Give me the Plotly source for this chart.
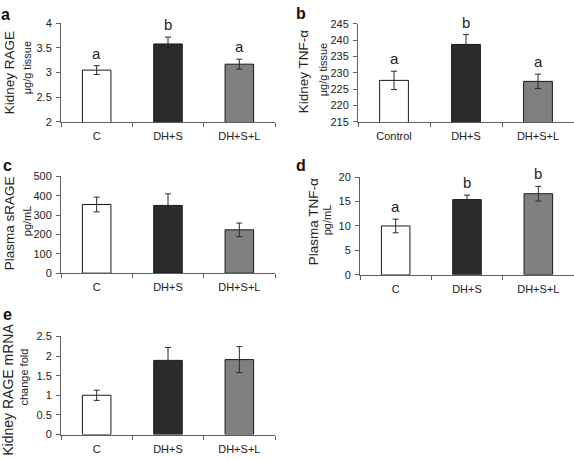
import plotly.graph_objects as go

W, H = 574, 460

groups = ["C", "DH+S", "DH+S+L"]
groups_b = ["Control", "DH+S", "DH+S+L"]

kidney_rage = [3.05, 3.58, 3.17]
kidney_rage_err = [0.09, 0.14, 0.10]
kidney_rage_sig = ["a", "b", "a"]

kidney_tnf = [227.7, 238.7, 227.4]
kidney_tnf_err = [2.8, 3.0, 2.2]
kidney_tnf_sig = ["a", "b", "a"]

plasma_srage = [355, 350, 224]
plasma_srage_err = [38, 60, 35]

plasma_tnf = [10.0, 15.4, 16.6]
plasma_tnf_err = [1.4, 0.9, 1.5]
plasma_tnf_sig = ["a", "b", "b"]

rage_mrna = [1.0, 1.89, 1.91]
rage_mrna_err = [0.13, 0.33, 0.33]

bar_colors = ["#ffffff", "#2b2b2b", "#808080"]
FONT = "Liberation Sans, Arial, sans-serif"
TXT = "#222222"
AX = "#5f5f5f"

def px_x(p):
    return p / W

def px_y(p):
    return 1 - p / H

panels = [
    dict(cats=groups, vals=kidney_rage, errs=kidney_rage_err, sig=kidney_rage_sig,
         xd=(61, 275), yd=(17.7, 119), yr=[2, 4], dt=0.5,
         title="Kidney RAGE", sub="μg/g tissue", letter="a", tsize=13.5,
         tpos=(9, 69), spos=(27, 64), lpos=(5, 9)),
    dict(cats=groups_b, vals=kidney_tnf, errs=kidney_tnf_err, sig=kidney_tnf_sig,
         xd=(358, 574), yd=(18.3, 119), yr=[215, 245], dt=5,
         title="Kidney TNF-α", sub="μg/g tissue", letter="b", tsize=13.5,
         tpos=(303, 67), spos=(323, 66), lpos=(301, 8)),
    dict(cats=groups, vals=plasma_srage, errs=plasma_srage_err, sig=None,
         xd=(61, 275), yd=(175, 274.3), yr=[0, 500], dt=100,
         title="Plasma sRAGE", sub="pg/mL", letter="c", tsize=13.5,
         tpos=(9, 223), spos=(27, 221), lpos=(7, 164)),
    dict(cats=groups, vals=plasma_tnf, errs=plasma_tnf_err, sig=plasma_tnf_sig,
         xd=(360, 574), yd=(175.7, 276), yr=[0, 20], dt=5,
         title="Plasma TNF-α", sub="pg/mL", letter="d", tsize=13.5,
         tpos=(313, 222), spos=(327, 220), lpos=(301, 164)),
    dict(cats=groups, vals=rage_mrna, errs=rage_mrna_err, sig=None,
         xd=(61, 275), yd=(339.3, 440), yr=[0, 2.5], dt=0.5,
         title="Kidney RAGE mRNA", sub="change fold", letter="e", tsize=14,
         tpos=(8, 394), spos=(24.5, 381), lpos=(7, 317)),
]

fig = go.Figure()
annotations = []
layout = {}

for i, p in enumerate(panels, start=1):
    xa = "x" if i == 1 else f"x{i}"
    ya = "y" if i == 1 else f"y{i}"
    fig.add_trace(go.Bar(
        x=p["cats"], y=p["vals"], width=0.4,
        marker=dict(color=bar_colors, line=dict(color="#1a1a1a", width=1)),
        error_y=dict(type="data", array=p["errs"], visible=True,
                     color="#2a2a2a", thickness=1, width=3),
        xaxis=xa, yaxis=ya, showlegend=False, hoverinfo="skip",
    ))
    xkey = "xaxis" if i == 1 else f"xaxis{i}"
    ykey = "yaxis" if i == 1 else f"yaxis{i}"
    layout[xkey] = dict(
        domain=[px_x(p["xd"][0]), px_x(p["xd"][1])],
        anchor=ya, type="category", range=[-0.5, 2.5],
        showline=True, linecolor=AX, linewidth=1,
        ticks="outside", tickson="boundaries", ticklen=4, tickcolor=AX,
        ticklabelstandoff=4,
        tickfont=dict(size=11, color=TXT, family=FONT),
        showgrid=False, zeroline=False, fixedrange=True,
    )
    layout[ykey] = dict(
        domain=[px_y(p["yd"][1]), px_y(p["yd"][0])],
        anchor=xa, range=p["yr"], dtick=p["dt"], tick0=p["yr"][0],
        showline=True, linecolor=AX, linewidth=1,
        ticks="outside", ticklen=4, tickcolor=AX,
        ticklabelstandoff=2,
        tickfont=dict(size=11, color=TXT, family=FONT),
        showgrid=False, zeroline=False, fixedrange=True,
    )
    if p["sig"]:
        for c, v, e, s in zip(p["cats"], p["vals"], p["errs"], p["sig"]):
            annotations.append(dict(
                x=c, y=v + e, xref=xa, yref=ya, text=s, showarrow=False,
                yanchor="bottom", yshift=2,
                font=dict(size=15, color=TXT, family=FONT),
            ))
    annotations.append(dict(
        x=px_x(p["tpos"][0]), y=px_y(p["tpos"][1]), xref="paper", yref="paper",
        text=p["title"], textangle=-90, showarrow=False,
        xanchor="center", yanchor="middle",
        font=dict(size=p["tsize"], color=TXT, family=FONT),
    ))
    annotations.append(dict(
        x=px_x(p["spos"][0]), y=px_y(p["spos"][1]), xref="paper", yref="paper",
        text=p["sub"], textangle=-90, showarrow=False,
        xanchor="center", yanchor="middle",
        font=dict(size=11, color=TXT, family=FONT),
    ))
    annotations.append(dict(
        x=px_x(p["lpos"][0]), y=px_y(p["lpos"][1]), xref="paper", yref="paper",
        text="<b>" + p["letter"] + "</b>", showarrow=False,
        xanchor="center", yanchor="middle",
        font=dict(size=16, color="#111111", family=FONT),
    ))

fig.update_layout(
    width=W, height=H,
    margin=dict(l=0, r=0, t=0, b=0),
    paper_bgcolor="white", plot_bgcolor="white",
    font=dict(family=FONT, color=TXT),
    annotations=annotations,
    **layout,
)

fig.write_html(
    "out.html",
    config={"displayModeBar": False, "staticPlot": True},
    post_script="document.body.style.margin='0';document.body.style.overflow='hidden';",
)
